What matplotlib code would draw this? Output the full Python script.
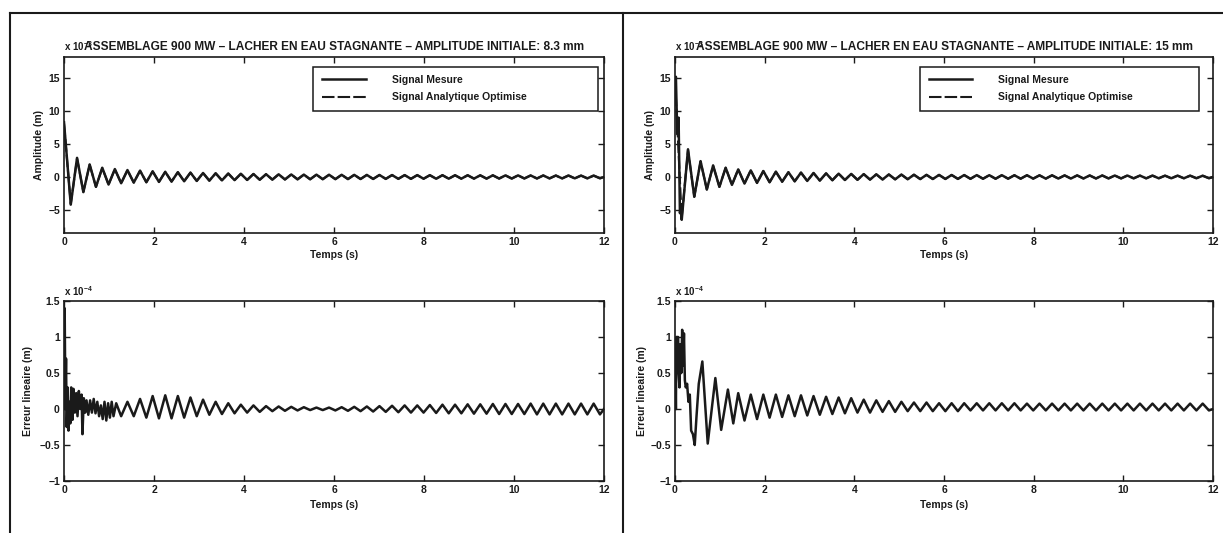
import matplotlib
matplotlib.use("Agg")
import matplotlib.pyplot as plt
from matplotlib.lines import Line2D

plt.rcParams['font.family'] = ['Liberation Sans', 'DejaVu Sans']
plt.rcParams['font.weight'] = 'bold'
plt.rcParams['axes.labelweight'] = 'bold'
plt.rcParams['mathtext.fontset'] = 'custom'
plt.rcParams['mathtext.rm'] = 'Liberation Sans:bold'
plt.rcParams['mathtext.default'] = 'regular'

INK = '#1a1a1a'

TITLES = ["ASSEMBLAGE 900 MW \u2013 LACHER EN EAU STAGNANTE \u2013 AMPLITUDE INITIALE: 8.3 mm",
          "ASSEMBLAGE 900 MW \u2013 LACHER EN EAU STAGNANTE \u2013 AMPLITUDE INITIALE: 15 mm"]
LEGEND_LABELS = ["Signal Mesure", "Signal Analytique Optimise"]
X_TICKS = [0, 2, 4, 6, 8, 10, 12]
TOP_Y_TICKS = [-5, 0, 5, 10, 15]
TOP_Y_LABELS = ["\u22125", "0", "5", "10", "15"]
BOT_Y_TICKS = [-1, -0.5, 0, 0.5, 1, 1.5]
BOT_Y_LABELS = ["\u22121", "\u22120.5", "0", "0.5", "1", "1.5"]

# times (s) of the successive peaks / troughs of the oscillation
T_GRID = [0.15, 0.29, 0.43, 0.57, 0.71, 0.85, 0.99, 1.13, 1.27, 1.41,
          1.55, 1.69, 1.83, 1.97, 2.11, 2.25, 2.39, 2.53, 2.67, 2.81,
          2.95, 3.09, 3.23, 3.37, 3.51, 3.65, 3.79, 3.93, 4.07, 4.21,
          4.35, 4.49, 4.63, 4.77, 4.91, 5.05, 5.19, 5.33, 5.47, 5.61,
          5.75, 5.89, 6.03, 6.17, 6.31, 6.45, 6.59, 6.73, 6.87, 7.01,
          7.15, 7.29, 7.43, 7.57, 7.71, 7.85, 7.99, 8.13, 8.27, 8.41,
          8.55, 8.69, 8.83, 8.97, 9.11, 9.25, 9.39, 9.53, 9.67, 9.81,
          9.95, 10.09, 10.23, 10.37, 10.51, 10.65, 10.79, 10.93, 11.07, 11.21,
          11.35, 11.49, 11.63, 11.77, 11.91]

# amplitude, 8.3 mm case (x 1e-3 m), value at each T_GRID time
TL_GRID_V = [-4.2, 2.9, -2.3, 1.9, -1.5, 1.4, -1.15, 1.2, -0.95, 1.05,
             -0.85, 0.95, -0.8, 0.85, -0.75, 0.78, -0.7, 0.72, -0.65, 0.66,
             -0.6, 0.6, -0.56, 0.56, -0.52, 0.52, -0.48, 0.48, -0.45, 0.45,
             -0.42, 0.42, -0.4, 0.4, -0.38, 0.38, -0.36, 0.36, -0.35, 0.35,
             -0.34, 0.34, -0.33, 0.33, -0.32, 0.32, -0.31, 0.31, -0.3, 0.3,
             -0.29, 0.29, -0.28, 0.28, -0.28, 0.28, -0.27, 0.27, -0.27, 0.27,
             -0.26, 0.26, -0.26, 0.26, -0.25, 0.25, -0.25, 0.25, -0.24, 0.24,
             -0.24, 0.24, -0.23, 0.23, -0.23, 0.23, -0.22, 0.22, -0.22, 0.22,
             -0.21, 0.21, -0.21, 0.21, -0.2]
TL_MES_HEAD_T = [0.0]
TL_MES_HEAD_V = [8.3]
TL_ANA_HEAD_V = [8.1, -4.1, 2.8, -2.25, 1.85, -1.5, 1.35, -1.15, 1.15, -0.95, 1.0]

# amplitude, 15 mm case (x 1e-3 m)
TR_GRID_V = [-6.5, 4.2, -3.0, 2.4, -1.9, 1.75, -1.5, 1.4, -1.2, 1.15,
             -1.0, 1.0, -0.9, 0.9, -0.8, 0.8, -0.72, 0.72, -0.66, 0.66,
             -0.6, 0.6, -0.55, 0.55, -0.5, 0.5, -0.46, 0.46, -0.43, 0.43,
             -0.4, 0.4, -0.38, 0.38, -0.36, 0.36, -0.34, 0.34, -0.32, 0.32,
             -0.31, 0.31, -0.3, 0.3, -0.29, 0.29, -0.28, 0.28, -0.27, 0.27,
             -0.27, 0.27, -0.26, 0.26, -0.26, 0.26, -0.25, 0.25, -0.25, 0.25,
             -0.24, 0.24, -0.24, 0.24, -0.23, 0.23, -0.23, 0.23, -0.22, 0.22,
             -0.22, 0.22, -0.21, 0.21, -0.21, 0.21, -0.2, 0.2, -0.2, 0.2,
             -0.2, 0.2, -0.19, 0.19, -0.19]
TR_MES_HEAD_T = [0.0, 0.02, 0.05, 0.08, 0.11, 0.13]
TR_MES_HEAD_V = [13.5, 15.2, 6.5, 9.0, -5.5, -4.6]
TR_ANA_HEAD_V = [15.0, -6.2, 4.1, -3.0, 2.35, -1.9, 1.7, -1.5, 1.4, -1.2, 1.15]

# linear error, 8.3 mm case (x 1e-4 m)
BL_HEAD_T = [0.0, 0.015, 0.03, 0.045, 0.06, 0.08, 0.10, 0.12, 0.14, 0.16,
             0.19, 0.21, 0.24, 0.27, 0.30, 0.33, 0.36, 0.39, 0.41, 0.44,
             0.47, 0.50, 0.54, 0.58, 0.62, 0.66, 0.70, 0.74, 0.78, 0.82,
             0.86, 0.90, 0.94, 0.98, 1.02, 1.06, 1.10, 1.16]
BL_HEAD_V = [0.0, 1.4, 0.1, 0.7, -0.25, 0.3, -0.3, 0.1, -0.2, 0.3,
             -0.15, 0.28, -0.05, 0.22, -0.1, 0.25, 0.0, 0.2, -0.35, 0.15,
             -0.05, 0.12, -0.08, 0.12, -0.05, 0.14, -0.06, 0.1, -0.1, 0.05,
             -0.14, 0.1, -0.16, 0.08, -0.12, 0.1, -0.1, 0.08]
BL_GRID_V = [-0.1, 0.1, -0.1, 0.14, -0.12, 0.18, -0.13, 0.19, -0.13, 0.18,
             -0.12, 0.16, -0.1, 0.13, -0.08, 0.1, -0.07, 0.08, -0.06, 0.06,
             -0.05, 0.05, -0.04, 0.04, -0.03, 0.035, -0.025, 0.03, -0.02, 0.025,
             -0.015, 0.02, -0.015, 0.02, -0.02, 0.025, -0.025, 0.03, -0.03, 0.035,
             -0.035, 0.04, -0.04, 0.045, -0.045, 0.05, -0.05, 0.05, -0.05, 0.055,
             -0.055, 0.06, -0.06, 0.06, -0.06, 0.065, -0.065, 0.065, -0.065, 0.07,
             -0.07, 0.07, -0.07, 0.07, -0.07, 0.075, -0.075, 0.075, -0.075, 0.075,
             -0.075, 0.075, -0.075, 0.075, -0.075, 0.075, -0.075]

# linear error, 15 mm case (x 1e-4 m)
BR_HEAD_T = [0.0, 0.01, 0.02, 0.03, 0.07, 0.08, 0.10, 0.12, 0.14, 0.16,
             0.18, 0.20, 0.22, 0.24, 0.27, 0.30, 0.33, 0.36, 0.40, 0.44,
             0.48, 0.53, 0.61, 0.73, 0.90, 1.03, 1.18, 1.30]
BR_HEAD_V = [0.0, 0.5, 0.0, 1.0, 1.0, 0.5, 0.3, 0.9, 0.5, 1.1,
             0.6, 1.05, 0.4, 0.3, 0.35, 0.1, 0.2, -0.3, -0.35, -0.5,
             -0.1, 0.35, 0.66, -0.48, 0.43, -0.29, 0.27, -0.2]
BR_GRID_V = [0.22, -0.16, 0.2, -0.14, 0.2, -0.12, 0.2, -0.11, 0.19, -0.1,
             0.19, -0.09, 0.18, -0.08, 0.17, -0.07, 0.16, -0.06, 0.15, -0.05,
             0.13, -0.05, 0.12, -0.04, 0.11, -0.04, 0.1, -0.03, 0.09, -0.03,
             0.09, -0.03, 0.08, -0.03, 0.08, -0.03, 0.08, -0.02, 0.08, -0.02,
             0.08, -0.02, 0.08, -0.02, 0.08, -0.02, 0.075, -0.02, 0.075, -0.02,
             0.075, -0.02, 0.075, -0.02, 0.075, -0.02, 0.075, -0.02, 0.075, -0.02,
             0.075, -0.02, 0.075, -0.02, 0.075, -0.02, 0.075, -0.02, 0.075, -0.02,
             0.075, -0.02, 0.075, -0.02, 0.075, -0.02]

T_END = [12.0]
V_END = [0.0]

W, H = 1223, 533
fig = plt.figure(figsize=(W / 100, H / 100), dpi=100)
fig.patch.set_facecolor('white')


def px_axes(x0, y0, x1, y1):
    # pixel box (top-left origin) -> figure fraction axes
    return fig.add_axes([x0 / W, 1 - y1 / H, (x1 - x0) / W, (y1 - y0) / H])


def style(ax, yticks, ylim, ylabels):
    ax.set_xlim(0, 12)
    ax.set_ylim(*ylim)
    ax.set_xticks(X_TICKS)
    ax.set_yticks(yticks)
    ax.set_yticklabels(ylabels)
    ax.tick_params(direction='in', top=True, right=True, length=4, width=1,
                   labelsize=7.5, pad=3, colors=INK)
    for s in ax.spines.values():
        s.set_linewidth(1.2)
        s.set_color(INK)


ax_tl = px_axes(64, 57, 604, 233)
ax_tr = px_axes(675, 57, 1213, 233)
ax_bl = px_axes(64, 301, 604, 481)
ax_br = px_axes(675, 301, 1213, 481)

top_cases = [
    (ax_tl, TL_MES_HEAD_T, TL_MES_HEAD_V, TL_GRID_V, TL_ANA_HEAD_V, TITLES[0], 0.462, 0.527),
    (ax_tr, TR_MES_HEAD_T, TR_MES_HEAD_V, TR_GRID_V, TR_ANA_HEAD_V, TITLES[1], 0.456, 0.518),
]
for ax, ht, hv, gv, ana_head, title, lx, lw in top_cases:
    t_mes = ht + T_GRID + T_END
    v_mes = [v * 1e-3 for v in hv + gv + V_END]
    t_ana = [0.0] + T_GRID + T_END
    v_ana = [v * 1e-3 for v in ana_head + gv[len(ana_head) - 1:] + V_END]
    h1, = ax.plot(t_mes, v_mes, color=INK, lw=1.8)
    h2, = ax.plot(t_ana, v_ana, color=INK, lw=1.5, dashes=(6, 1.5))
    style(ax, [v * 1e-3 for v in TOP_Y_TICKS], (-8.5e-3, 18.2e-3), TOP_Y_LABELS)
    ax.set_ylabel("Amplitude (m)", fontsize=7.5, color=INK)
    ax.yaxis.set_label_coords(-0.037, 0.5)
    ax.set_xlabel("Temps (s)", fontsize=7.5, color=INK)
    ax.xaxis.set_label_coords(0.5, -0.095)
    ax.text(0.0, 1.025, r"x 10$^{-3}$", transform=ax.transAxes, ha='left',
            va='bottom', fontsize=7, color=INK)
    ax.text(0.5, 1.057, title, transform=ax.transAxes, ha='center',
            va='center', fontsize=8.6, color=INK)
    leg = ax.legend([h1, h2], LEGEND_LABELS, loc='upper left',
                    bbox_to_anchor=(lx, 0.0, lw, 0.945), mode='expand',
                    borderaxespad=0, fontsize=7.5, handlelength=4.2,
                    handletextpad=2.5, borderpad=0.8, labelspacing=0.7,
                    fancybox=False, framealpha=1, edgecolor=INK)
    leg.get_frame().set_linewidth(1.1)
    for txt in leg.get_texts():
        txt.set_color(INK)

bot_cases = [
    (ax_bl, BL_HEAD_T, BL_HEAD_V, BL_GRID_V, -0.057),
    (ax_br, BR_HEAD_T, BR_HEAD_V, BR_GRID_V, -0.052),
]
for ax, ht, hv, gv, ylx in bot_cases:
    start = len(T_GRID) - len(gv)
    t = ht + T_GRID[start:] + T_END
    v = [x * 1e-4 for x in hv + gv + V_END]
    ax.plot(t, v, color=INK, lw=1.8)
    style(ax, [y * 1e-4 for y in BOT_Y_TICKS], (-1e-4, 1.5e-4), BOT_Y_LABELS)
    ax.set_ylabel("Erreur lineaire (m)", fontsize=7.5, color=INK)
    ax.yaxis.set_label_coords(ylx, 0.5)
    ax.set_xlabel("Temps (s)", fontsize=7.5, color=INK)
    ax.xaxis.set_label_coords(0.5, -0.105)
    ax.text(0.0, 1.015, r"x 10$^{-4}$", transform=ax.transAxes, ha='left',
            va='bottom', fontsize=7, color=INK)

# scanned page frame: top rule, left rule and middle divider
for xs, ys in [([10 / W, 1.0], [1 - 13 / H, 1 - 13 / H]),
               ([10 / W, 10 / W], [1 - 13 / H, 0.0]),
               ([623 / W, 623 / W], [1 - 13 / H, 0.0])]:
    fig.add_artist(Line2D(xs, ys, transform=fig.transFigure, color=INK, lw=1.5))

fig.savefig("out.png", dpi=100, facecolor='white')
